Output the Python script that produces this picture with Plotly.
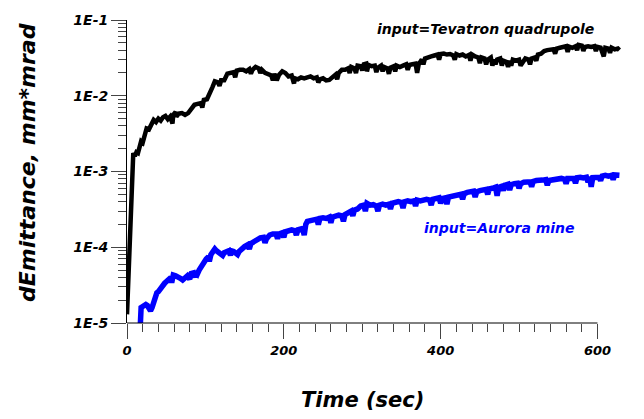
import plotly.graph_objects as go

# ---- data ----
tev_t = [0, 1, 2, 3, 4, 5, 6, 7, 8, 10, 12, 14, 16, 18, 20, 22, 25, 28, 31, 34, 37, 40, 43, 46, 49, 52, 55, 58, 59,
         62, 66, 70, 74, 78, 82, 86, 90, 94, 98, 102, 106, 109, 112, 116, 120, 124, 128, 132, 136, 140, 144, 148,
         152, 156, 160, 164, 168, 172, 176, 180, 184, 188, 191, 194, 198, 202, 206, 210, 214, 218, 222, 226, 230,
         234, 238, 242, 246, 250, 254, 258, 262, 266, 270, 274, 278, 282, 286, 290, 294, 298, 302, 305, 306, 308,
         312, 316, 320, 324, 328, 332, 334, 336, 340, 344, 348, 352, 356, 360, 364, 368, 370, 372, 376, 380, 384,
         388, 392, 396, 400, 404, 408, 412, 416, 420, 424, 428, 432, 436, 440, 444, 448, 450, 452, 456, 460, 464,
         468, 470, 472, 476, 480, 484, 486, 488, 492, 496, 500, 504, 508, 512, 516, 520, 524, 528, 532, 536, 540,
         544, 548, 552, 556, 560, 564, 568, 572, 576, 580, 584, 588, 592, 596, 600, 604, 608, 610, 614, 618, 622,
         626, 628]
tev_v = [1.3e-5, 2.4e-5, 4.5e-5, 9e-5, 1.6e-4, 4.0e-4, 9e-4, 1.5e-3, 1.75e-3, 1.6e-3, 1.8e-3, 1.75e-3, 2.1e-3,
         2.5e-3, 2.4e-3, 3.0e-3, 3.7e-3, 3.6e-3, 4.2e-3, 4.8e-3, 4.5e-3, 5.0e-3, 4.7e-3, 5.2e-3, 5.4e-3, 4.9e-3,
         5.3e-3, 4.3e-3, 5.6e-3, 6.1e-3, 5.8e-3, 5.9e-3, 5.6e-3, 5.9e-3, 6.8e-3, 7.6e-3, 7.8e-3, 8.0e-3, 8.8e-3,
         9.0e-3, 1.07e-2, 1.3e-2, 1.55e-2, 1.5e-2, 1.6e-2, 1.6e-2, 1.95e-2, 2.0e-2, 2.05e-2, 2.15e-2, 2.2e-2,
         2.2e-2, 2.1e-2, 2.25e-2, 2.2e-2, 2.4e-2, 2.3e-2, 2.2e-2, 2.0e-2, 1.9e-2, 1.85e-2, 1.95e-2, 1.6e-2, 1.9e-2,
         2.1e-2, 2.0e-2, 1.8e-2, 1.85e-2, 1.7e-2, 1.65e-2, 1.75e-2, 1.7e-2, 1.75e-2, 1.8e-2, 1.7e-2, 1.75e-2,
         1.65e-2, 1.7e-2, 1.6e-2, 1.62e-2, 1.75e-2, 1.9e-2, 2.0e-2, 2.2e-2, 2.2e-2, 2.3e-2, 2.4e-2, 2.3e-2, 2.5e-2,
         2.45e-2, 2.6e-2, 2.65e-2, 2.1e-2, 2.55e-2, 2.45e-2, 2.5e-2, 2.35e-2, 2.5e-2, 2.4e-2, 2.3e-2, 1.95e-2,
         2.35e-2, 2.45e-2, 2.5e-2, 2.4e-2, 2.5e-2, 2.6e-2, 2.55e-2, 2.6e-2, 2.65e-2, 2.0e-2, 2.6e-2, 3.0e-2, 3.1e-2,
         3.15e-2, 3.3e-2, 3.4e-2, 3.5e-2, 3.55e-2, 3.6e-2, 3.5e-2, 3.55e-2, 3.4e-2, 3.55e-2, 3.4e-2, 3.5e-2, 3.3e-2,
         3.45e-2, 3.5e-2, 3.3e-2, 3.2e-2, 2.7e-2, 3.2e-2, 3.1e-2, 3.0e-2, 3.2e-2, 3.0e-2, 2.6e-2, 3.0e-2, 3.1e-2,
         2.9e-2, 2.8e-2, 2.4e-2, 2.9e-2, 3.0e-2, 2.9e-2, 3.0e-2, 2.75e-2, 3.1e-2, 3.0e-2, 3.1e-2, 3.2e-2, 3.5e-2,
         3.6e-2, 3.9e-2, 4.0e-2, 4.0e-2, 4.1e-2, 4.2e-2, 4.3e-2, 4.4e-2, 4.5e-2, 4.45e-2, 4.3e-2, 4.5e-2, 4.7e-2,
         4.6e-2, 4.4e-2, 4.5e-2, 4.4e-2, 4.5e-2, 4.4e-2, 4.3e-2, 3.3e-2, 4.3e-2, 4.2e-2, 4.3e-2, 4.1e-2, 4.2e-2,
         4.0e-2]
# short downward spikes seen along the black curve
tev_spike_t = [63, 96, 118, 138, 158, 170, 186, 213, 244, 268, 284, 292, 300, 318, 326, 342, 358, 378, 398, 418,
               438, 458, 466, 478, 490, 502, 514, 522, 546, 562, 574, 582, 598, 616]
tev_spike_v = [5.3e-3, 7.0e-3, 1.35e-2, 1.75e-2, 1.95e-2, 2.0e-2, 1.6e-2, 1.45e-2, 1.5e-2, 1.65e-2, 2.0e-2,
               2.0e-2, 2.15e-2, 2.05e-2, 2.1e-2, 2.1e-2, 2.2e-2, 2.6e-2, 3.0e-2, 3.0e-2, 2.9e-2, 2.6e-2, 2.5e-2,
               2.5e-2, 2.5e-2, 2.5e-2, 2.6e-2, 2.9e-2, 3.6e-2, 3.8e-2, 4.0e-2, 3.9e-2, 3.9e-2, 3.7e-2]

aur_t = [17, 17.5, 18, 20, 22, 24, 26, 28, 30, 32, 34, 36, 38, 40, 42, 44, 46, 48, 50, 53, 56, 59, 62, 65, 68, 71,
         74, 77, 80, 82, 85, 88, 90, 92, 95, 98, 101, 104, 107, 110, 112, 114, 117, 120, 122, 124, 127, 130, 133,
         136, 139, 141, 143, 146, 150, 154, 158, 162, 166, 170, 174, 178, 182, 186, 190, 192, 194, 198, 202, 206,
         210, 214, 218, 222, 225, 226, 228, 230, 234, 238, 242, 246, 250, 254, 258, 262, 266, 270, 274, 276, 278,
         282, 286, 290, 294, 298, 302, 306, 310, 314, 318, 322, 326, 330, 334, 338, 342, 346, 350, 354, 358, 362,
         366, 370, 374, 378, 382, 386, 390, 394, 398, 402, 406, 408, 410, 414, 418, 422, 426, 430, 434, 438, 442,
         446, 450, 454, 458, 462, 466, 470, 472, 474, 478, 482, 486, 490, 494, 498, 502, 506, 510, 514, 518, 522,
         526, 530, 534, 538, 542, 546, 550, 554, 558, 562, 566, 570, 574, 578, 582, 586, 590, 592, 594, 598, 602,
         606, 610, 614, 618, 622, 626, 628]
aur_v = [9.5e-6, 1.3e-5, 1.6e-5, 1.65e-5, 1.7e-5, 1.75e-5, 1.7e-5, 1.55e-5, 1.45e-5, 1.6e-5, 1.9e-5, 2.2e-5,
         2.5e-5, 2.6e-5, 2.8e-5, 3.0e-5, 3.3e-5, 3.35e-5, 3.5e-5, 3.8e-5, 4.0e-5, 4.3e-5, 4.2e-5, 4.1e-5, 3.9e-5,
         3.7e-5, 4.0e-5, 4.2e-5, 3.8e-5, 4.5e-5, 4.6e-5, 4.8e-5, 4.5e-5, 5.0e-5, 5.6e-5, 6.5e-5, 7.0e-5, 7.5e-5,
         8.0e-5, 8.8e-5, 9.5e-5, 9.0e-5, 8.5e-5, 8.2e-5, 7.8e-5, 8.5e-5, 8.8e-5, 9.0e-5, 9.0e-5, 8.8e-5, 8.5e-5,
         8.0e-5, 8.8e-5, 9.5e-5, 1.02e-4, 1.08e-4, 1.12e-4, 1.2e-4, 1.3e-4, 1.33e-4, 1.35e-4, 1.3e-4, 1.45e-4,
         1.5e-4, 1.5e-4, 1.3e-4, 1.5e-4, 1.55e-4, 1.6e-4, 1.65e-4, 1.7e-4, 1.65e-4, 1.7e-4, 1.75e-4, 1.6e-4,
         1.45e-4, 2.0e-4, 2.2e-4, 2.25e-4, 2.3e-4, 2.35e-4, 2.4e-4, 2.45e-4, 2.4e-4, 2.5e-4, 2.5e-4, 2.6e-4,
         2.65e-4, 2.6e-4, 2.2e-4, 2.7e-4, 2.8e-4, 3.0e-4, 3.1e-4, 3.2e-4, 3.5e-4, 3.6e-4, 3.8e-4, 3.6e-4, 3.65e-4,
         3.5e-4, 3.6e-4, 3.7e-4, 3.6e-4, 3.7e-4, 3.8e-4, 3.9e-4, 4.0e-4, 3.9e-4, 4.0e-4, 4.1e-4, 4.0e-4, 4.1e-4,
         4.2e-4, 4.1e-4, 4.2e-4, 4.3e-4, 4.2e-4, 4.3e-4, 4.4e-4, 4.5e-4, 4.4e-4, 4.5e-4, 3.7e-4, 4.6e-4, 4.7e-4,
         4.9e-4, 5.1e-4, 5.0e-4, 5.1e-4, 5.3e-4, 5.4e-4, 5.5e-4, 5.4e-4, 5.6e-4, 5.7e-4, 5.8e-4, 5.9e-4, 6.0e-4,
         6.2e-4, 4.8e-4, 6.2e-4, 6.4e-4, 6.6e-4, 6.8e-4, 6.7e-4, 6.9e-4, 7.0e-4, 6.9e-4, 7.2e-4, 7.1e-4, 7.3e-4,
         7.4e-4, 7.6e-4, 7.5e-4, 7.7e-4, 7.8e-4, 7.6e-4, 7.8e-4, 7.9e-4, 8.0e-4, 8.1e-4, 7.9e-4, 8.1e-4, 8.2e-4,
         8.1e-4, 8.3e-4, 8.4e-4, 8.2e-4, 8.4e-4, 8.5e-4, 6.3e-4, 8.3e-4, 8.5e-4, 8.4e-4, 8.7e-4, 8.9e-4, 8.7e-4,
         8.9e-4, 9.0e-4, 8.8e-4, 8.9e-4]
# short downward spikes seen along the blue curve
aur_spike_t = [57, 87, 105, 132, 156, 176, 200, 216, 244, 260, 288, 304, 320, 336, 352, 368, 388, 400, 428, 444,
               460, 480, 488, 500, 516, 536, 560, 572, 588, 604, 620]
aur_spike_v = [3.4e-5, 4.0e-5, 6.5e-5, 7.8e-5, 9.5e-5, 1.15e-4, 1.35e-4, 1.45e-4, 2.0e-4, 2.1e-4, 2.6e-4, 3.0e-4,
               3.0e-4, 3.2e-4, 3.3e-4, 3.5e-4, 3.6e-4, 3.8e-4, 4.3e-4, 4.6e-4, 5.0e-4, 5.6e-4, 5.7e-4, 6.0e-4,
               6.3e-4, 6.6e-4, 6.9e-4, 7.0e-4, 7.2e-4, 7.6e-4, 7.8e-4]

y_tickvals = [1e-5, 1e-4, 1e-3, 1e-2, 1e-1]
y_ticktext = ["1E-5", "1E-4", "1E-3", "1E-2", "1E-1"]
y_minor = [m * 10.0 ** e for e in range(-5, -1) for m in range(2, 10)]
x_tickvals = [0, 200, 400, 600]
x_ticktext = ["0", "200", "400", "600"]
x_minor = [v for v in range(20, 600, 20) if v % 200 != 0]


def merge(t, v, st, sv):
    pts = sorted(list(zip(t, v)) + list(zip(st, sv)))
    return [p[0] for p in pts], [p[1] for p in pts]


tx, ty = merge(tev_t, tev_v, tev_spike_t, tev_spike_v)
ax, ay = merge(aur_t, aur_v, aur_spike_t, aur_spike_v)

FONT = "DejaVu Sans"

fig = go.Figure()
fig.add_trace(go.Scatter(x=tx, y=ty, mode="lines",
                         line=dict(color="#000000", width=4.5), showlegend=False))
fig.add_trace(go.Scatter(x=ax, y=ay, mode="lines",
                         line=dict(color="#0000FF", width=5.5), showlegend=False))

fig.update_layout(
    width=644, height=419,
    margin=dict(l=127, r=23, t=20, b=96),
    paper_bgcolor="white", plot_bgcolor="white",
    font=dict(family=FONT, color="black"),
    xaxis=dict(range=[0, 630], showgrid=False, zeroline=False, showline=False,
               tickmode="array", tickvals=x_tickvals, ticktext=x_ticktext,
               ticks="outside", ticklen=15, tickwidth=1, tickcolor="#444",
               tickfont=dict(family=FONT, size=13, weight="bold", style="italic"),
               minor=dict(tickmode="array", tickvals=x_minor, ticks="outside",
                          ticklen=8, tickwidth=1, tickcolor="#444", showgrid=False)),
    yaxis=dict(type="log", range=[-5, -1], showgrid=False, zeroline=False,
               showline=True, linecolor="black", linewidth=1,
               tickmode="array", tickvals=y_tickvals, ticktext=y_ticktext,
               ticks="outside", ticklen=15, tickwidth=1, tickcolor="#444",
               tickfont=dict(family=FONT, size=14, weight="bold", style="italic"),
               minor=dict(tickmode="array", tickvals=y_minor, ticks="outside",
                          ticklen=8, tickwidth=1, tickcolor="#444", showgrid=False)),
)

# bottom axis line spanning only 0..600
fig.add_shape(type="line", xref="x", yref="paper", x0=0, x1=600, y0=0, y1=0,
              line=dict(color="black", width=1))

fig.add_annotation(text="input=Tevatron quadrupole", xref="x", yref="y",
                   x=457, y=-1.123, showarrow=False, xanchor="center", yanchor="middle",
                   font=dict(family=FONT, size=14, weight="bold", style="italic", color="black"))
fig.add_annotation(text="input=Aurora mine", xref="x", yref="y",
                   x=475, y=-3.752, showarrow=False, xanchor="center", yanchor="middle",
                   font=dict(family=FONT, size=14, weight="bold", style="italic", color="#0000FF"))
fig.add_annotation(text="Time (sec)", xref="x", yref="paper", x=300, y=-0.255,
                   showarrow=False, xanchor="center", yanchor="middle",
                   font=dict(family=FONT, size=21, weight="bold", style="italic", color="black"))
fig.add_annotation(text="dEmittance, mm*mrad", xref="paper", yref="paper",
                   x=-0.2024, y=0.528, textangle=-90, showarrow=False,
                   xanchor="center", yanchor="middle",
                   font=dict(family=FONT, size=22, weight="bold", style="italic", color="black"))

fig.write_html("out.html")
